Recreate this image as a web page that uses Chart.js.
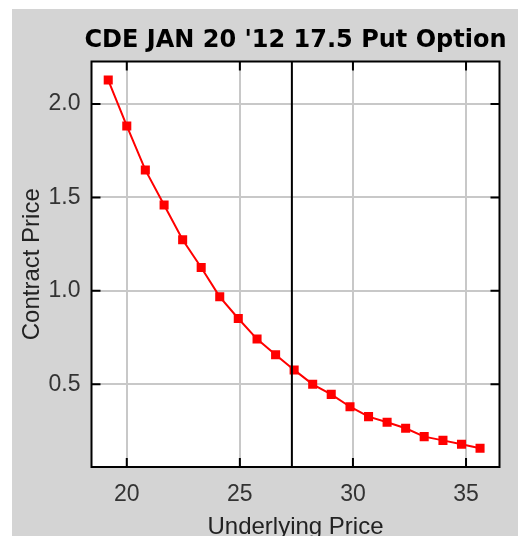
<!DOCTYPE html>
<html>
<head>
<meta charset="utf-8">
<script src="https://cdn.jsdelivr.net/npm/chart.js@4.4.0/dist/chart.umd.min.js"></script>
<style>
    body { margin: 0; background: #ffffff; }
    #panel {
        position: absolute; left: 12px; top: 9px;
        width: 506px; height: 527px;
        overflow: hidden; background: #d4d4d4;
    }
</style>
</head>
<body>
<div id="panel"><canvas id="myChart" width="506" height="545"></canvas></div>
<script>
const underlyingPrices = [19.18, 20.00, 20.82, 21.65, 22.47, 23.29, 24.11, 24.93, 25.76, 26.58, 27.40,
    28.22, 29.04, 29.87, 30.69, 31.51, 32.33, 33.15, 33.98, 34.80, 35.62];
const contractPrices = [2.128, 1.882, 1.647, 1.459, 1.273, 1.125, 0.968, 0.852, 0.742, 0.658, 0.577,
    0.500, 0.446, 0.380, 0.327, 0.297, 0.265, 0.220, 0.200, 0.179, 0.158];
const xTickValues = [20, 25, 30, 35];
const yTickValues = [0.5, 1.0, 1.5, 2.0];
const currentPrice = 27.3;

const CONFIG_LINE_COLOR = '#ff0000';
const CONFIG_GRID_COLOR = '#c8c8c8';

// white plot area, black frame, inner tick marks and the current price line
const framePlugin = {
    id: 'frame',
    afterLayout(chart) {
        // title is a bit wider than the plot, let it overhang so it is not squeezed
        const t = chart.titleBlock;
        if (t) { t.left -= 14; t.right += 14; t.width = t.right - t.left; }
    },
    beforeDraw(chart) {
        const a = chart.chartArea;
        const ctx = chart.ctx;
        ctx.save();
        ctx.fillStyle = '#ffffff';
        ctx.fillRect(a.left, a.top, a.right - a.left, a.bottom - a.top);
        ctx.restore();
    },
    afterDatasetsDraw(chart) {
        const a = chart.chartArea;
        const ctx = chart.ctx;
        const xs = chart.scales.x;
        const ys = chart.scales.y;
        ctx.save();
        ctx.strokeStyle = '#000000';
        ctx.lineWidth = 2;
        ctx.beginPath();
        xTickValues.forEach(v => {
            const px = xs.getPixelForValue(v);
            ctx.moveTo(px, a.top); ctx.lineTo(px, a.top + 9);
            ctx.moveTo(px, a.bottom); ctx.lineTo(px, a.bottom - 9);
        });
        yTickValues.forEach(v => {
            const py = ys.getPixelForValue(v);
            ctx.moveTo(a.left, py); ctx.lineTo(a.left + 9, py);
            ctx.moveTo(a.right, py); ctx.lineTo(a.right - 9, py);
        });
        const cx = xs.getPixelForValue(currentPrice);
        ctx.moveTo(cx, a.top); ctx.lineTo(cx, a.bottom);
        ctx.stroke();
        ctx.strokeRect(a.left, a.top, a.right - a.left, a.bottom - a.top);
        ctx.restore();
    }
};

function drawChart() {
    const ctx = document.getElementById('myChart').getContext('2d');
    const myChart = new Chart(ctx, {
        type: 'line',
        data: {
            datasets: [{
                data: underlyingPrices.map((x, i) => ({ x: x, y: contractPrices[i] })),
                borderColor: CONFIG_LINE_COLOR,
                backgroundColor: CONFIG_LINE_COLOR,
                borderWidth: 2,
                pointStyle: 'rect',
                pointRadius: 6.4,
                pointHoverRadius: 6.4,
                pointBorderWidth: 0,
                tension: 0
            }]
        },
        options: {
            responsive: false,
            animation: false,
            layout: { padding: { right: 18.5 } },
            scales: {
                x: {
                    type: 'linear',
                    min: 18.44,
                    max: 36.48,
                    afterBuildTicks: s => { s.ticks = xTickValues.map(v => ({ value: v })); },
                    afterFit: s => { s.height = 87; },
                    grid: { color: CONFIG_GRID_COLOR, lineWidth: 2, drawTicks: false },
                    border: { display: false },
                    ticks: {
                        padding: 14,
                        color: '#333333',
                        font: { family: '"Liberation Sans", Arial', size: 23 }
                    },
                    title: {
                        display: true,
                        text: 'Underlying Price',
                        color: '#222222',
                        padding: { top: 0, bottom: 12.6 },
                        font: { family: '"Liberation Sans", Arial', size: 24 }
                    }
                },
                y: {
                    min: 0.0575,
                    max: 2.227,
                    afterBuildTicks: s => { s.ticks = yTickValues.map(v => ({ value: v })); },
                    afterFit: s => { s.width = 79.5; },
                    grid: { color: CONFIG_GRID_COLOR, lineWidth: 2, drawTicks: false },
                    border: { display: false },
                    ticks: {
                        padding: 11,
                        color: '#333333',
                        callback: v => v.toFixed(1),
                        font: { family: '"Liberation Sans", Arial', size: 23 }
                    },
                    title: {
                        display: true,
                        text: 'Contract Price',
                        color: '#222222',
                        padding: { top: 6, bottom: 0 },
                        font: { family: '"Liberation Sans", Arial', size: 24 }
                    }
                }
            },
            plugins: {
                legend: { display: false },
                tooltip: { enabled: false },
                title: {
                    display: true,
                    fullSize: false,
                    text: "CDE JAN 20 '12 17.5 Put Option",
                    color: '#000000',
                    padding: { top: 17.1, bottom: 6.6 },
                    font: { family: '"DejaVu Sans", Verdana', size: 24, weight: 'bold' }
                }
            }
        },
        plugins: [framePlugin]
    });
}

drawChart();
</script>
</body>
</html>
